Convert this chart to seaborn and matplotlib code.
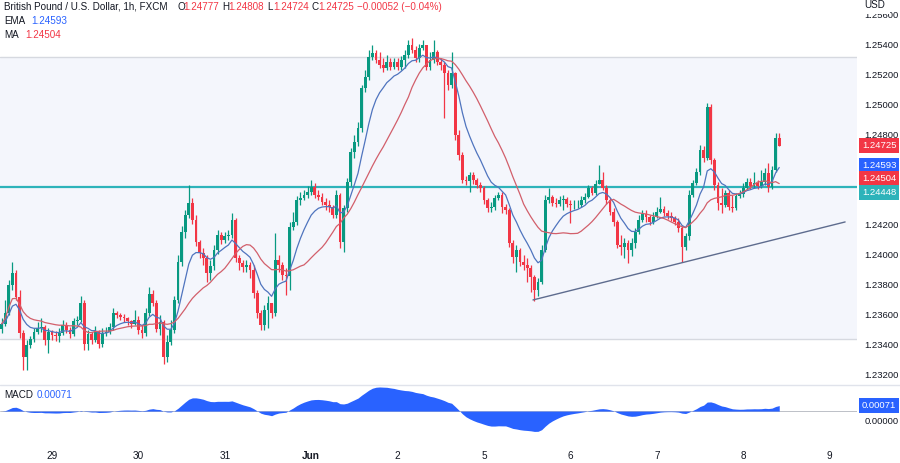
import numpy as np
import pandas as pd
import matplotlib
matplotlib.use("Agg")
import matplotlib.pyplot as plt
import seaborn as sns
from matplotlib.lines import Line2D
from matplotlib.transforms import blended_transform_factory

# ---------------- data (GBP/USD 1h) ----------------
first_open = 1.23503
close = [
    1.23537, 1.23610, 1.23797, 1.23877, 1.23717, 1.23477, 1.23317, 1.23397, 1.23437, 1.23483,
    1.23510, 1.23517, 1.23430, 1.23483, 1.23463, 1.23457, 1.23477, 1.23530, 1.23497, 1.23470,
    1.23557, 1.23563, 1.23677, 1.23403, 1.23470, 1.23430, 1.23490, 1.23403, 1.23477, 1.23483,
    1.23517, 1.23610, 1.23597, 1.23583, 1.23577, 1.23557, 1.23537, 1.23563, 1.23497, 1.23477,
    1.23610, 1.23737, 1.23677, 1.23503, 1.23550, 1.23317, 1.23417, 1.23497, 1.23697, 1.23950,
    1.24150, 1.24263, 1.24343, 1.24230, 1.24083, 1.24010, 1.23977, 1.23877, 1.23923, 1.24030,
    1.24130, 1.24097, 1.24123, 1.24130, 1.24230, 1.23977, 1.23943, 1.23917, 1.23930, 1.23897,
    1.23743, 1.23610, 1.23530, 1.23630, 1.23677, 1.23610, 1.23963, 1.23930, 1.23863, 1.23857,
    1.24183, 1.24217, 1.24363, 1.24377, 1.24397, 1.24417, 1.24450, 1.24397, 1.24383, 1.24350,
    1.24330, 1.24317, 1.24263, 1.24397, 1.24083, 1.24310, 1.24483, 1.24683, 1.24750, 1.24843,
    1.25110, 1.25183, 1.25317, 1.25343, 1.25297, 1.25263, 1.25243, 1.25283, 1.25250, 1.25283,
    1.25250, 1.25297, 1.25330, 1.25397, 1.25363, 1.25310, 1.25377, 1.25397, 1.25250, 1.25297,
    1.25350, 1.25283, 1.25263, 1.25210, 1.25130, 1.25210, 1.24797, 1.24663, 1.24497, 1.24490,
    1.24530, 1.24497, 1.24463, 1.24443, 1.24363, 1.24310, 1.24317, 1.24377, 1.24397, 1.24317,
    1.24297, 1.24077, 1.23983, 1.24030, 1.23950, 1.23930, 1.23910, 1.23850, 1.23763, 1.23817,
    1.24030, 1.24363, 1.24383, 1.24343, 1.24337, 1.24363, 1.24370, 1.24337, 1.24330, 1.24330,
    1.24330, 1.24363, 1.24383, 1.24443, 1.24410, 1.24470, 1.24497, 1.24443, 1.24363, 1.24283,
    1.24217, 1.24063, 1.24050, 1.24077, 1.24030, 1.24077, 1.24150, 1.24230, 1.24270, 1.24250,
    1.24217, 1.24250, 1.24283, 1.24303, 1.24277, 1.24257, 1.24243, 1.24217, 1.24177, 1.24050,
    1.24123, 1.24397, 1.24477, 1.24550, 1.24697, 1.24643, 1.24983, 1.24630, 1.24463, 1.24343,
    1.24330, 1.24410, 1.24317, 1.24310, 1.24390, 1.24403, 1.24443, 1.24483, 1.24457, 1.24477,
    1.24457, 1.24483, 1.24543, 1.24450, 1.24563, 1.24777, 1.24725,
]
high = [
    1.23577, 1.23697, 1.23830, 1.23950, 1.23897, 1.23763, 1.23497, 1.23430, 1.23457, 1.23510,
    1.23550, 1.23577, 1.23530, 1.23510, 1.23497, 1.23490, 1.23510, 1.23563, 1.23550, 1.23517,
    1.23577, 1.23590, 1.23723, 1.23697, 1.23497, 1.23483, 1.23523, 1.23497, 1.23510, 1.23517,
    1.23543, 1.23643, 1.23623, 1.23610, 1.23603, 1.23583, 1.23563, 1.23630, 1.23590, 1.23530,
    1.23643, 1.23783, 1.23763, 1.23697, 1.23597, 1.23563, 1.23463, 1.23563, 1.23723, 1.23997,
    1.24190, 1.24297, 1.24463, 1.24377, 1.24263, 1.24097, 1.24043, 1.23997, 1.23963, 1.24063,
    1.24163, 1.24150, 1.24150, 1.24163, 1.24277, 1.24243, 1.23997, 1.23963, 1.23963, 1.23950,
    1.23930, 1.23763, 1.23630, 1.23663, 1.23723, 1.23677, 1.24143, 1.23997, 1.23950, 1.23910,
    1.24217, 1.24283, 1.24390, 1.24417, 1.24430, 1.24457, 1.24497, 1.24477, 1.24430, 1.24410,
    1.24377, 1.24363, 1.24330, 1.24430, 1.24410, 1.24330, 1.24510, 1.24710, 1.24797, 1.24883,
    1.25130, 1.25230, 1.25363, 1.25397, 1.25363, 1.25350, 1.25310, 1.25330, 1.25310, 1.25310,
    1.25310, 1.25323, 1.25363, 1.25430, 1.25443, 1.25390, 1.25403, 1.25430, 1.25397, 1.25350,
    1.25430, 1.25363, 1.25310, 1.25283, 1.25230, 1.25350, 1.25217, 1.24830, 1.24683, 1.24523,
    1.24550, 1.24550, 1.24510, 1.24483, 1.24457, 1.24377, 1.24350, 1.24397, 1.24417, 1.24417,
    1.24337, 1.24310, 1.24097, 1.24063, 1.24043, 1.23997, 1.23977, 1.23930, 1.23863, 1.23843,
    1.24063, 1.24397, 1.24443, 1.24397, 1.24377, 1.24390, 1.24397, 1.24383, 1.24363, 1.24363,
    1.24363, 1.24390, 1.24410, 1.24463, 1.24457, 1.24497, 1.24597, 1.24550, 1.24463, 1.24377,
    1.24310, 1.24230, 1.24130, 1.24110, 1.24097, 1.24110, 1.24177, 1.24263, 1.24297, 1.24297,
    1.24263, 1.24283, 1.24317, 1.24383, 1.24323, 1.24297, 1.24283, 1.24257, 1.24243, 1.24190,
    1.24143, 1.24430, 1.24497, 1.24577, 1.24730, 1.24723, 1.25010, 1.25003, 1.24643, 1.24483,
    1.24443, 1.24430, 1.24430, 1.24397, 1.24410, 1.24430, 1.24477, 1.24510, 1.24510, 1.24550,
    1.24497, 1.24563, 1.24577, 1.24610, 1.24590, 1.24810, 1.24808,
]
low = [
    1.23477, 1.23523, 1.23597, 1.23763, 1.23697, 1.23443, 1.23230, 1.23230, 1.23377, 1.23417,
    1.23470, 1.23483, 1.23397, 1.23343, 1.23430, 1.23423, 1.23417, 1.23463, 1.23477, 1.23443,
    1.23457, 1.23530, 1.23550, 1.23363, 1.23363, 1.23403, 1.23417, 1.23377, 1.23383, 1.23457,
    1.23470, 1.23497, 1.23577, 1.23563, 1.23550, 1.23530, 1.23510, 1.23530, 1.23470, 1.23443,
    1.23457, 1.23590, 1.23657, 1.23483, 1.23463, 1.23270, 1.23283, 1.23397, 1.23477, 1.23677,
    1.23923, 1.24110, 1.24243, 1.24203, 1.24057, 1.23977, 1.23930, 1.23817, 1.23830, 1.23897,
    1.24003, 1.24070, 1.24077, 1.24097, 1.24110, 1.23950, 1.23897, 1.23883, 1.23883, 1.23843,
    1.23710, 1.23577, 1.23497, 1.23497, 1.23510, 1.23577, 1.23590, 1.23883, 1.23830, 1.23730,
    1.23763, 1.24163, 1.24197, 1.24330, 1.24363, 1.24377, 1.24397, 1.24377, 1.24363, 1.24330,
    1.24297, 1.24283, 1.24243, 1.24243, 1.24043, 1.24017, 1.24283, 1.24457, 1.24643, 1.24723,
    1.24817, 1.25083, 1.25163, 1.25297, 1.25277, 1.25243, 1.25217, 1.25230, 1.25230, 1.25237,
    1.25230, 1.25230, 1.25243, 1.25310, 1.25343, 1.25283, 1.25283, 1.25363, 1.25230, 1.25230,
    1.25277, 1.25263, 1.25230, 1.24910, 1.25097, 1.25110, 1.24763, 1.24630, 1.24477, 1.24463,
    1.24417, 1.24470, 1.24443, 1.24417, 1.24337, 1.24283, 1.24283, 1.24297, 1.24363, 1.24277,
    1.24270, 1.24050, 1.23943, 1.23883, 1.23923, 1.23897, 1.23817, 1.23750, 1.23690, 1.23723,
    1.23803, 1.24017, 1.24343, 1.24323, 1.24317, 1.24323, 1.24297, 1.24317, 1.24210, 1.24303,
    1.24310, 1.24317, 1.24343, 1.24377, 1.24397, 1.24397, 1.24470, 1.24430, 1.24337, 1.24263,
    1.24190, 1.24043, 1.23997, 1.23977, 1.23943, 1.23990, 1.24043, 1.24137, 1.24217, 1.24217,
    1.24197, 1.24203, 1.24243, 1.24277, 1.24257, 1.24237, 1.24223, 1.24197, 1.24150, 1.23950,
    1.24030, 1.24097, 1.24383, 1.24463, 1.24530, 1.24617, 1.24630, 1.24603, 1.24430, 1.24297,
    1.24277, 1.24317, 1.24297, 1.24283, 1.24297, 1.24377, 1.24383, 1.24430, 1.24437, 1.24443,
    1.24437, 1.24443, 1.24463, 1.24417, 1.24437, 1.24550, 1.24724,
]

day_labels = ["29", "30", "31", "Jun", "2", "5", "6", "7", "8", "9"]
day_first_bar = [14, 38, 62, 86, 110, 134, 158, 182, 206, 230]

support_level = 1.24448
zone_top, zone_bottom = 1.25315, 1.23437
trend_bar = [147.6, 234.3]
trend_price = [1.23697, 1.24217]

ema_value, ma_value, macd_value = 1.24593, 1.24504, 0.00071
macd_zero_label = "0.00000"
ohlc_legend = [("O", "1.24777"), ("H", "1.24808"), ("L", "1.24724"), ("C", "1.24725")]
change_text = "\u22120.00052 (\u22120.04%)"
# scale labels that stay visible (1.24600 / 1.24400 sit under the price tags)
price_ticks = [1.232, 1.234, 1.236, 1.238, 1.240, 1.242,
               1.248, 1.250, 1.252, 1.254, 1.256]

# ---------------- styling ----------------
sns.set_theme(style="white")
plt.rcParams["font.family"] = ["Liberation Sans", "DejaVu Sans"]
TXT = "#131722"
GREEN, RED = "#089981", "#F23645"
EMA_C, MA_C = "#4F74BE", "#D25F6B"
CYAN = "#2DB3BA"
BLUE = "#2962FF"

W, H = 900, 463
fig = plt.figure(figsize=(W / 100, H / 100), dpi=100)
fig.patch.set_facecolor("white")
ax = fig.add_axes([0, 78 / H, 857 / W, 385 / H])
ax2 = fig.add_axes([0, 20 / H, 857 / W, 57 / H])

c = np.array(close)
hi = np.array(high)
lo = np.array(low)
o = np.r_[first_open, c[:-1]]
idx = np.arange(len(c))
up = c >= o
cols = np.where(up, GREEN, RED)

# zone + levels
ax.axhspan(zone_bottom, zone_top, facecolor="#F4F6FC", edgecolor="none", zorder=0)
ax.axhline(zone_top, color="#D6D9E0", lw=1.0, zorder=1)
ax.axhline(zone_bottom, color="#D6D9E0", lw=1.0, zorder=1)
ax.axhline(support_level, color=CYAN, lw=1.6, zorder=2)

# candles
ax.vlines(idx, lo, hi, colors=cols, lw=0.9, zorder=3)
ax.bar(idx, np.maximum(np.abs(c - o), 0.00002), bottom=np.minimum(o, c),
       width=0.8, color=cols, linewidth=0, zorder=4)

# moving averages
s = pd.Series(c)
ema = s.ewm(span=9, adjust=False).mean()
ma = s.rolling(20, min_periods=1).mean()
sns.lineplot(x=idx, y=ema.values, ax=ax, color=EMA_C, linewidth=0.9, zorder=5)
sns.lineplot(x=idx, y=ma.values, ax=ax, color=MA_C, linewidth=0.9, zorder=5)

# trend line
ax.plot(trend_bar, trend_price, color="#5E6C8E", lw=1.0, zorder=5)

xlim = (-0.44, 237.6)
ax.set_xlim(*xlim)
ax.set_ylim(1.2313, 1.256967)
for sp in ax.spines.values():
    sp.set_visible(False)
ax.set_xticks([])
ax.yaxis.tick_right()
ax.set_yticks(price_ticks)
ax.set_yticklabels([f"{v:.5f}" for v in price_ticks])
ax.tick_params(axis="y", length=0, pad=5, labelsize=6.8, labelcolor=TXT)
ax.set_ylabel("")

tr = blended_transform_factory(ax.transAxes, ax.transData)
def price_box(val, color, dy=0):
    ax.annotate(f"{val:.5f}", xy=(1.0, val), xycoords=tr, xytext=(3.5, dy),
                textcoords="offset points", ha="left", va="center",
                fontsize=6.8, color="white", annotation_clip=False, zorder=10,
                bbox=dict(boxstyle="square,pad=0.32", fc=color, ec="none"))

price_box(c[-1], RED)
price_box(ema_value, BLUE)
price_box(ma_value, RED)
price_box(support_level, CYAN, dy=-3.4)

# MACD
ema12 = s.ewm(span=12, adjust=False).mean()
ema26 = s.ewm(span=26, adjust=False).mean()
macd = (ema12 - ema26).values
ax2.fill_between(idx, macd, 0, color=BLUE, linewidth=0, zorder=3)
ax2.axhline(0, color="#B2B5BE", lw=0.6, zorder=2)
mx = macd.max()
top = mx * 1.04
ax2.set_ylim(-top * 0.56 / 0.44, top)
ax2.set_xlim(*xlim)
for sp in ax2.spines.values():
    sp.set_visible(False)
ax2.set_yticks([])
ax2.set_xticks(day_first_bar)
ax2.set_xticklabels(day_labels)
ax2.tick_params(axis="x", length=0, pad=6, labelsize=7.2, labelcolor=TXT)
for lab in ax2.get_xticklabels():
    if lab.get_text() == "Jun":
        lab.set_fontweight("bold")
tr2 = blended_transform_factory(ax2.transAxes, ax2.transData)
# zero label peeks out just below the current-value tag
ax2.annotate(macd_zero_label, xy=(1.0, 0), xycoords=tr2, xytext=(5.5, -4.2),
             textcoords="offset points", ha="left", va="top", fontsize=6.8,
             color=TXT, annotation_clip=False, zorder=9)
ax2.annotate(f"{macd_value:.5f}", xy=(1.0, macd_value), xycoords=tr2, xytext=(3.5, 0),
             textcoords="offset points", ha="left", va="center", fontsize=6.8,
             color="white", annotation_clip=False, zorder=10,
             bbox=dict(boxstyle="square,pad=0.32", fc=BLUE, ec="none"))

# pane separator
fig.add_artist(Line2D([0, 1], [78 / H, 78 / H], color="#E0E3EB", lw=1.0))

# legends
def ftxt(xp, yp, s, color=TXT, **kw):
    fig.text(xp / W, 1 - yp / H, s, color=color, fontsize=7.1, va="center", ha="left", **kw)

ftxt(4, 6.5, "British Pound / U.S. Dollar, 1h, FXCM")
xs = [177, 222, 267, 312]
for (k, v), xp in zip(ohlc_legend, xs):
    ftxt(xp, 6.5, k)
    ftxt(xp + 6.5, 6.5, v, color=RED)
ftxt(357, 6.5, change_text, color=RED)
ftxt(4, 20.5, "EMA")
ftxt(31, 20.5, f"{ema_value:.5f}", color=BLUE)
ftxt(4, 34.5, "MA")
ftxt(25, 34.5, f"{ma_value:.5f}", color=RED)
ftxt(4, 395, "MACD")
ftxt(37, 395, f"{macd_value:.5f}", color=BLUE)

fig.text(864 / W, 1 - 4.5 / H, "USD", fontsize=7.1, color=TXT, va="center", ha="left",
         bbox=dict(boxstyle="square,pad=0.5", fc="white", ec="none"))

fig.savefig("out.png", dpi=100, facecolor="white")
